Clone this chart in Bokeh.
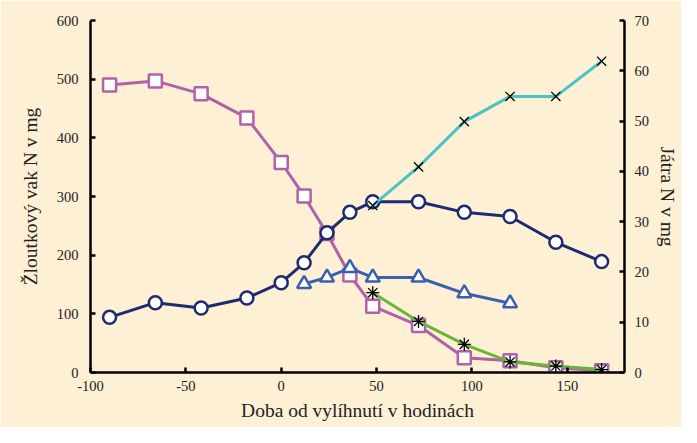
from bokeh.plotting import figure
from bokeh.models import Range1d, LinearAxis, FixedTicker, CustomJSTickFormatter
from bokeh.embed import file_html
from bokeh.resources import INLINE

# Data (hours from hatching)
x_sq = [-90, -66, -42, -18, 0, 12, 24, 36, 48, 72, 96, 120, 144, 168]
y_sq = [490, 497, 475, 434, 358, 301, 237, 166, 113, 80, 25, 20, 8, 3]

x_ci = [-90, -66, -42, -18, 0, 12, 24, 36, 48, 72, 96, 120, 144, 168]
y_ci = [94, 119, 110, 127, 153, 187, 238, 273, 291, 291, 273, 266, 222, 189]

x_tr = [12, 24, 36, 48, 72, 96, 120]
y_tr = [151, 162, 178, 162, 162, 135, 118]

x_as = [48, 72, 96, 120, 144, 168]
y_as = [136, 87, 48, 18, 11, 5]

x_x = [48, 72, 96, 120, 144, 168]
y_x = [33.2, 40.9, 49.9, 54.9, 54.9, 61.9]   # right axis (liver)

x_ticks = [-100, -50, 0, 50, 100, 150]
yl_ticks = [0, 100, 200, 300, 400, 500, 600]
yr_ticks = [0, 10, 20, 30, 40, 50, 60, 70]

BG = "#FDF0D4"
FONT = "Liberation Serif"

p = figure(width=681, height=427, output_backend="svg", toolbar_location=None,
           x_range=Range1d(-100, 180), y_range=Range1d(0, 600),
           min_border_left=90, min_border_right=54, min_border_top=20, min_border_bottom=55)
p.extra_y_ranges = {"r": Range1d(0, 70)}
p.background_fill_color = BG
p.border_fill_color = BG
p.outline_line_color = None
p.grid.visible = False

fmt = CustomJSTickFormatter(code="return tick.toString();")

def style_axis(ax):
    ax.axis_line_width = 2.5
    ax.axis_line_color = "black"
    ax.major_tick_line_width = 2.5
    ax.major_tick_in = 5
    ax.major_tick_out = 0
    ax.minor_tick_line_color = None
    ax.major_label_text_font = FONT
    ax.major_label_text_font_size = "14.5px"
    ax.major_label_text_color = "#222222"
    ax.axis_label_text_font = FONT
    ax.axis_label_text_font_size = "19.5px"
    ax.axis_label_text_font_style = "normal"
    ax.axis_label_text_color = "#222222"
    ax.formatter = fmt

xa = p.xaxis[0]
xa.ticker = FixedTicker(ticks=x_ticks)
xa.axis_label = "Doba od vylíhnutí v hodinách"
style_axis(xa)
xa.major_label_standoff = 8
xa.axis_label_standoff = 6

ya = p.yaxis[0]
ya.ticker = FixedTicker(ticks=yl_ticks)
ya.axis_label = "Žloutkový vak N v mg"
style_axis(ya)
ya.major_label_standoff = 12
ya.axis_label_standoff = 13

yr = LinearAxis(y_range_name="r", ticker=FixedTicker(ticks=yr_ticks), axis_label="Játra N v mg")
style_axis(yr)
yr.major_label_standoff = 10
yr.axis_label_standoff = 5
p.add_layout(yr, "right")

PINK = "#B062A8"
NAVY = "#1E2B6E"
BLUE = "#3A5FAE"
CYAN = "#4CC3C3"
GREEN = "#6AB43C"

p.line(x_sq, y_sq, line_color=PINK, line_width=3)
p.scatter(x_sq, y_sq, marker="square", size=13, fill_color="white", line_color=PINK, line_width=2.5)

p.line(x_tr, y_tr, line_color=BLUE, line_width=3)
p.scatter(x_tr, y_tr, marker="triangle", size=14, fill_color="white", line_color=BLUE, line_width=2.5)

p.line(x_ci, y_ci, line_color=NAVY, line_width=3)
p.scatter(x_ci, y_ci, marker="circle", size=13, fill_color="white", line_color=NAVY, line_width=2.5)

p.line(x_as, y_as, line_color=GREEN, line_width=3)
p.scatter(x_as, y_as, marker="asterisk", size=13, line_color="black", line_width=1.3)

p.line(x_x, y_x, line_color=CYAN, line_width=3, y_range_name="r")
p.scatter(x_x, y_x, marker="x", size=13, line_color="black", line_width=1.3, y_range_name="r")

html = file_html(p, INLINE)
html = html.replace("<body>", '<body style="background-color: %s;">' % BG, 1)
open("out.html", "w").write(html)
